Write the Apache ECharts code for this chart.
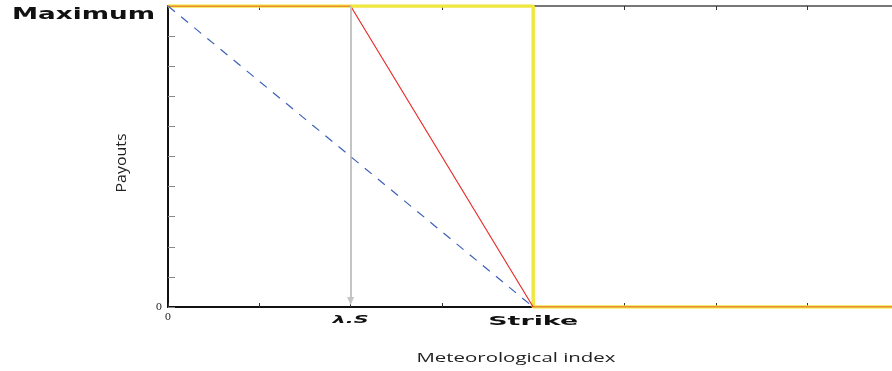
<!DOCTYPE html>
<html>
<head>
<meta charset="utf-8">
<script src="https://cdn.jsdelivr.net/npm/echarts@6/dist/echarts.min.js"></script>
<style>
html,body{margin:0;padding:0;background:#fff;}
#chart{width:892px;height:371px;}
</style>
</head>
<body>
<div id="chart"></div>
<script>
// ---- data ----
const xMin = 0, xMax = 7.93;
const yMin = 0, yMax = 10;
const lambdaS = 2;
const strike = 4;
const digitalX = [0, 4, 4, 8];
const digitalY = [10, 10, 0, 0];
const cappedX = [0, 2, 4, 8];
const cappedY = [10, 10, 0, 0];
const linearX = [0, 4];
const linearY = [10, 0];
const arrowX = [2, 2];
const arrowY = [10, 0];
const xZeroLabel = '0';
const yZeroLabel = '0';
const yMaxLabel = 'Maximum';
const lambdaLabel = 'λ.S';
const strikeLabel = 'Strike';
const xName = 'Meteorological index';
const yName = 'Payouts';

function pairs(xs, ys) { return xs.map((x, i) => [x, ys[i]]); }

const chart = echarts.init(document.getElementById('chart'), null, {renderer: 'canvas'});

const option = {
  animation: false,
  backgroundColor: '#ffffff',
  grid: {left: 168, top: 6, right: 0, height: 301, containLabel: false},
  xAxis: [{
    type: 'value', min: xMin, max: xMax, interval: 1, position: 'bottom',
    axisLine: {show: true, onZero: false, lineStyle: {color: '#111', width: 2}},
    axisTick: {show: true, inside: true, length: 4, lineStyle: {color: '#333', width: 1}},
    splitLine: {show: false},
    axisLabel: {
      margin: 5, showMaxLabel: false,
      fontFamily: 'DejaVu Serif', fontSize: 10, color: '#222',
      formatter: v => (v === xMin ? xZeroLabel : '')
    }
  }, {
    type: 'value', min: xMin, max: xMax, interval: 1, position: 'top',
    axisLine: {show: true, onZero: false, lineStyle: {color: '#777', width: 2}},
    axisTick: {show: true, inside: true, length: 4, lineStyle: {color: '#333', width: 1}},
    splitLine: {show: false},
    axisLabel: {show: false}
  }],
  yAxis: [{
    type: 'value', min: yMin, max: yMax, interval: 1,
    axisLine: {show: true, onZero: false, lineStyle: {color: '#111', width: 2}},
    axisTick: {show: true, inside: true, length: 7, lineStyle: {color: '#888', width: 1}},
    splitLine: {show: false},
    axisLabel: {
      margin: 6,
      fontFamily: 'DejaVu Serif', fontSize: 10, color: '#222',
      formatter: v => (v === yMin ? yZeroLabel : '')
    }
  }],
  series: [{
    name: 'digital', type: 'line', data: pairs(digitalX, digitalY),
    symbol: 'none', lineStyle: {color: '#f0e840', width: 3.5}, z: 2
  }, {
    name: 'arrow', type: 'line', data: [], symbol: 'none',
    markLine: {
      silent: true, symbol: ['none', 'triangle'], symbolSize: [7, 8],
      label: {show: false},
      lineStyle: {color: '#c4c4c4', width: 2, type: 'solid'},
      data: [[{coord: [arrowX[0], arrowY[0]]}, {coord: [arrowX[1], arrowY[1] + 0.2]}]]
    }, z: 3
  }, {
    name: 'capped', type: 'line', data: pairs(cappedX, cappedY),
    symbol: 'none', lineStyle: {color: '#e8302c', width: 1.2}, z: 4
  }, {
    name: 'linear', type: 'line', data: pairs(linearX, linearY),
    symbol: 'none', lineStyle: {color: '#3d5fb8', width: 1.2, type: [9, 8]}, z: 5
  }]
};
chart.setOption(option);

// measure text so stretched labels match widths of the original typeface
const mctx = document.createElement('canvas').getContext('2d');
function measure(text, font) { mctx.font = font; return mctx.measureText(text).width; }

const pMax = chart.convertToPixel({gridIndex: 0}, [xMin, yMax]);
const pLam = chart.convertToPixel({gridIndex: 0}, [lambdaS, yMin]);
const pStr = chart.convertToPixel({gridIndex: 0}, [strike, yMin]);

const boldFont = 'bold 15px "DejaVu Sans"';
const boldFontS = 'bold 12px "DejaVu Sans"';
const bolditFont = 'italic bold 11px "DejaVu Sans"';
const nameFont = '13px "Open Sans"';
const yNameFont = '15px "Open Sans"';

chart.setOption({
  graphic: [{
    type: 'text', x: pMax[0] - 13, y: pMax[1] + 9.5,
    scaleX: 143 / measure(yMaxLabel, boldFont),
    style: {text: yMaxLabel, font: boldFont, fill: '#111', align: 'right', verticalAlign: 'middle'}
  }, {
    type: 'text', x: pLam[0], y: pLam[1] + 13,
    scaleX: 36 / measure(lambdaLabel, bolditFont),
    style: {text: lambdaLabel, font: bolditFont, fill: '#111', align: 'center', verticalAlign: 'middle'}
  }, {
    type: 'text', x: pStr[0], y: pStr[1] + 15,
    scaleX: 90 / measure(strikeLabel, boldFontS),
    style: {text: strikeLabel, font: boldFontS, fill: '#111', align: 'center', verticalAlign: 'middle'}
  }, {
    type: 'text', x: 516, y: 358,
    scaleX: 199 / measure(xName, nameFont),
    style: {text: xName, font: nameFont, fill: '#222', align: 'center', verticalAlign: 'middle'}
  }, {
    type: 'text', x: 122, y: 163, rotation: Math.PI / 2,
    scaleX: 59 / measure(yName, yNameFont),
    style: {text: yName, font: yNameFont, fill: '#222', align: 'center', verticalAlign: 'middle'}
  }]
});
</script>
</body>
</html>
